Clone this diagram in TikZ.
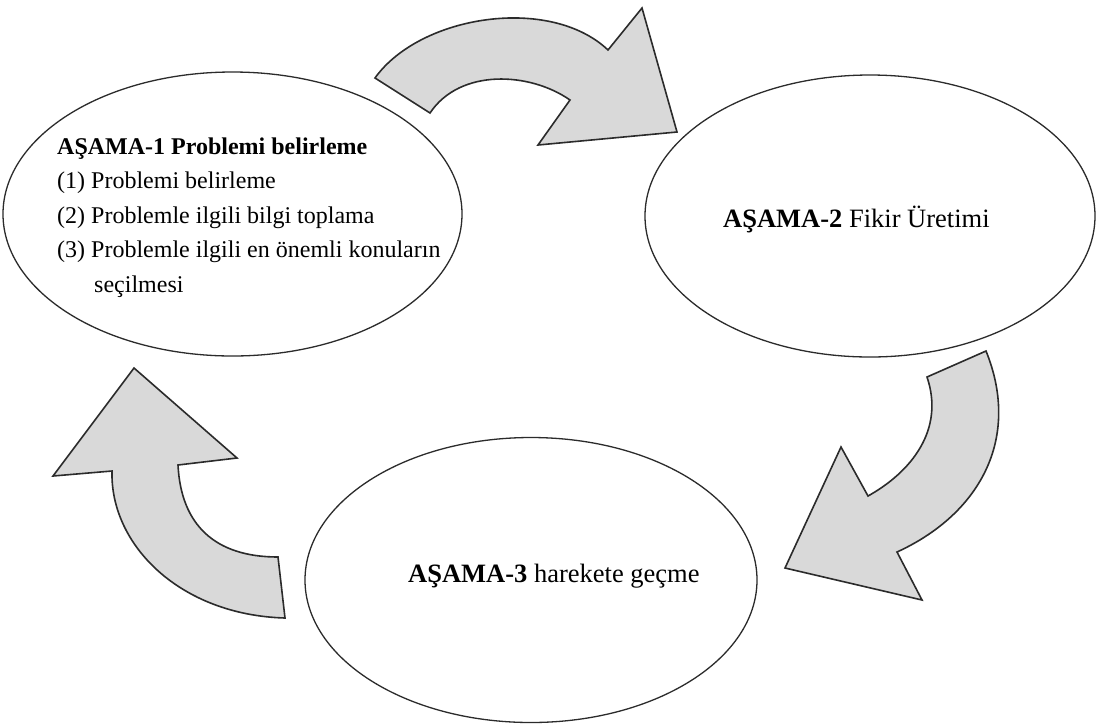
\documentclass[tikz,border=0pt]{standalone}
\usepackage{fontspec}
\setmainfont{Liberation Serif}
\usetikzlibrary{shapes.geometric}
\definecolor{arrowfill}{HTML}{D9D9D9}
\definecolor{edgecol}{HTML}{2B2B2B}
\tikzset{
  phase/.style={draw=edgecol, line width=1.3pt, ellipse, inner sep=0pt, fill=white},
  bigarrow/.style={draw=edgecol, fill=arrowfill, line width=1.6pt, line join=miter},
  smalltxt/.style={anchor=base west, inner sep=0pt, font=\fontsize{24}{30}\selectfont},
  bigtxt/.style={anchor=base west, inner sep=0pt, font=\fontsize{26.5}{32}\selectfont}
}
\begin{document}
\begin{tikzpicture}[x=1pt,y=-1pt]
\useasboundingbox[fill=white] (0,0) rectangle (1097,724);
% ellipses
\node[phase, minimum width=459pt, minimum height=284pt] (e1) at (232.5,214) {};
\node[phase, minimum width=450pt, minimum height=282pt] (e2) at (870,216) {};
\node[phase, minimum width=452pt, minimum height=285pt] (e3) at (531,580) {};
% texts
\node[smalltxt] (t1a) at (57,154) {\textbf{AŞAMA-1 Problemi belirleme}};
\node[smalltxt] (t1b) at (57,188) {(1) Problemi belirleme};
\node[smalltxt] (t1c) at (57,223) {(2) Problemle ilgili bilgi toplama};
\node[smalltxt] (t1d) at (57,257) {(3) Problemle ilgili en önemli konuların};
\node[smalltxt] (t1e) at (94,292) {seçilmesi};
\node[bigtxt] (t2) at (723,227) {\textbf{AŞAMA-2} Fikir Üretimi};
\node[bigtxt] (t3) at (408,582) {\textbf{AŞAMA-3} harekete geçme};
% arrow 1 (top)
\coordinate (a1t1) at (430,113);
\coordinate (a1t2) at (375,78);
\coordinate (a1b1) at (608,50);
\coordinate (a1h1) at (642,8);
\coordinate (a1tip) at (677,132);
\coordinate (a1h2) at (538,145);
\coordinate (a1b2) at (570,100);
\draw[bigarrow] (a1t1) -- (a1t2)
  .. controls (420,15) and (550,-5) .. (a1b1)
  -- (a1h1) -- (a1tip) -- (a1h2) -- (a1b2)
  .. controls (530,72) and (460,68) .. (a1t1)
  -- cycle;
% arrow 2 (right)
\coordinate (a2t1) at (927,377);
\coordinate (a2t2) at (986,351);
\coordinate (a2b1) at (897,552);
\coordinate (a2h1) at (922,600);
\coordinate (a2tip) at (785,568);
\coordinate (a2h2) at (841,447);
\coordinate (a2b2) at (868,496);
\draw[bigarrow] (a2t1) -- (a2t2)
  .. controls (1022,440) and (978,515) .. (a2b1)
  -- (a2h1) -- (a2tip) -- (a2h2) -- (a2b2)
  .. controls (911,472) and (945,430) .. (a2t1)
  -- cycle;
% arrow 3 (left)
\coordinate (a3t1) at (278,557);
\coordinate (a3t2) at (285,618);
\coordinate (a3b1) at (112,471);
\coordinate (a3h1) at (53,476);
\coordinate (a3tip) at (134,368);
\coordinate (a3h2) at (237,458);
\coordinate (a3b2) at (178,465);
\draw[bigarrow] (a3t1) -- (a3t2)
  .. controls (180,615) and (110,545) .. (a3b1)
  -- (a3h1) -- (a3tip) -- (a3h2) -- (a3b2)
  .. controls (181,525) and (215,557) .. (a3t1)
  -- cycle;
\end{tikzpicture}
\end{document}
